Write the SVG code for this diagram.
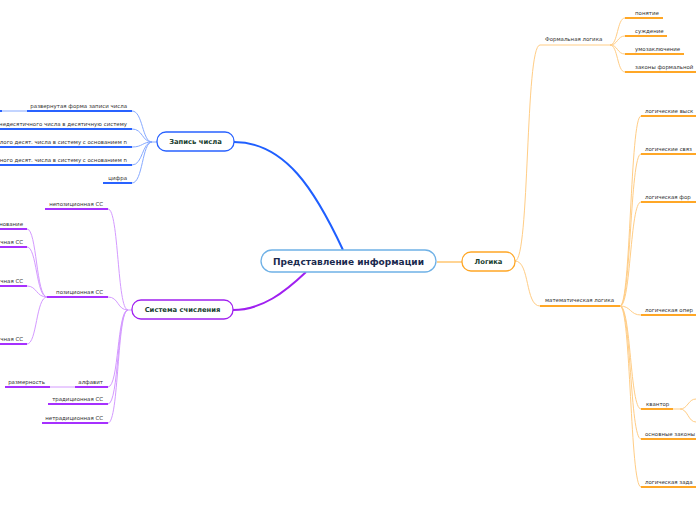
<svg xmlns="http://www.w3.org/2000/svg" width="696" height="520" viewBox="0 0 696 520">
<style>
text{font-family:"DejaVu Sans","Verdana",sans-serif}
.t{font-size:5.45px;fill:#333}
.e{text-anchor:end}
.b{font-weight:bold;font-size:6.8px;fill:#17402f;text-anchor:middle}
.c{font-weight:bold;font-size:9px;fill:#1b2a4e;text-anchor:middle}
.ub{stroke:#2962ff;stroke-width:2;fill:none}
.lb{stroke:#86a9ff;stroke-width:1;fill:none}
.up{stroke:#a630ff;stroke-width:2;fill:none}
.lp{stroke:#d49aff;stroke-width:1;fill:none}
.uo{stroke:#ffa726;stroke-width:2;fill:none}
.lo{stroke:#ffcd85;stroke-width:1;fill:none}
</style>
<rect width="696" height="520" fill="#fff"/>
<g id="connectors">
<path d="M343,250 C315,190 285,142 234,142" stroke="#1f5fff" stroke-width="2" fill="none"/>
<path d="M306,272 C285,292 262,310 233,310" stroke="#a020f0" stroke-width="2" fill="none"/>
<path d="M437,262 L462,262" stroke="#ffb74d" stroke-width="1.2" fill="none"/>
<path class="lo" d="M515,261 C530,261 525,45 540,45"/>
<path class="lo" d="M515,261 C530,261 525,306 540,306"/>
<path class="lo" d="M540,45 L610,45"/>
<path class="lo" d="M610,45 C618,45 617,18 625,18"/>
<path class="lo" d="M610,45 C618,45 617,36 625,36"/>
<path class="lo" d="M610,45 C618,45 617,54 625,54"/>
<path class="lo" d="M610,45 C618,45 617,72 625,72"/>
<path class="lo" d="M620,306 C631,306 630,116 641,116"/>
<path class="lo" d="M620,306 C631,306 630,154 641,154"/>
<path class="lo" d="M620,306 C631,306 630,202 641,202"/>
<path class="lo" d="M620,306 C631,306 630,315 641,315"/>
<path class="lo" d="M620,306 C631,306 630,409 641,409"/>
<path class="lo" d="M620,306 C631,306 630,439 641,439"/>
<path class="lo" d="M620,306 C631,306 630,487 641,487"/>
<path class="lo" d="M673,409 L680,409 C688,409 688,399 696,399"/>
<path class="lo" d="M680,409 C688,409 688,422 696,422"/>
<path class="lb" d="M132,111 C143,111 142,142 152,142 L157,142"/>
<path class="lb" d="M132,129 C143,129 142,142 152,142"/>
<path class="lb" d="M132,147 C143,147 142,142 152,142"/>
<path class="lb" d="M132,165 C143,165 142,142 152,142"/>
<path class="lb" d="M132,183 C143,183 142,142 152,142"/>
<path class="lb" d="M27,111 L2,111"/>
<path class="lp" d="M108,209 C119,209 117,310 128,310 L132,310"/>
<path class="lp" d="M108,297 C119,297 117,310 128,310"/>
<path class="lp" d="M108,387 C119,387 117,310 128,310"/>
<path class="lp" d="M108,404 C119,404 117,310 128,310"/>
<path class="lp" d="M108,423 C119,423 117,310 128,310"/>
<path class="lp" d="M27,229 C37,229 36,297 47,297"/>
<path class="lp" d="M27,247 C37,247 36,297 47,297"/>
<path class="lp" d="M27,286 C37,286 36,297 47,297"/>
<path class="lp" d="M27,344 C37,344 36,297 47,297"/>
<path class="lp" d="M75,387 L50,387"/>
</g>
<g id="root">
<rect x="261" y="250" width="175" height="22" rx="11" fill="#fff" stroke="#6fb1e6" stroke-width="1.3"/>
<text class="c" x="348.5" y="264.5">Представление информации</text>
</g>
<g id="logika">
<rect x="462" y="252" width="53" height="19" rx="9" fill="#fff" stroke="#ffa726" stroke-width="1.3"/>
<text class="b" x="488.5" y="264">Логика</text>
</g>
<g id="zapis">
<rect x="157" y="132" width="77" height="19" rx="9" fill="#fff" stroke="#2962ff" stroke-width="1.3"/>
<text class="b" x="195.5" y="144">Запись числа</text>
</g>
<g id="sistema">
<rect x="132" y="300" width="101" height="19" rx="9" fill="#fff" stroke="#a020f0" stroke-width="1.3"/>
<text class="b" x="182.5" y="312">Система счисления</text>
</g>
<g id="formal"><text class="t" x="545" y="41">Формальная логика</text></g>
<g id="ponyatie"><path class="uo" d="M625,18 L663,18"/><text class="t" x="635" y="14.5">понятие</text></g>
<g id="suzhdenie"><path class="uo" d="M625,36 L667,36"/><text class="t" x="635" y="32.5">суждение</text></g>
<g id="umozakl"><path class="uo" d="M625,54 L684,54"/><text class="t" x="635" y="50.5">умозаключение</text></g>
<g id="zakony-f"><path class="uo" d="M625,72 L696,72"/><text class="t" x="635" y="68.5">законы формальной</text></g>
<g id="matlog"><path class="uo" d="M540,306 L620,306"/><text class="t" x="545" y="302">математическая логика</text></g>
<g id="vysk"><path class="uo" d="M641,116 L696,116"/><text class="t" x="645" y="112.5">логические выск</text></g>
<g id="svyazk"><path class="uo" d="M641,154 L696,154"/><text class="t" x="645" y="150.5">логические связ</text></g>
<g id="forma"><path class="uo" d="M641,202 L696,202"/><text class="t" x="645" y="198.5">логическая фор</text></g>
<g id="opera"><path class="uo" d="M641,315 L696,315"/><text class="t" x="645" y="311.5">логическая опер</text></g>
<g id="kvantor"><path class="uo" d="M641,409 L673,409"/><text class="t" x="646" y="405.5">квантор</text></g>
<g id="osnzak"><path class="uo" d="M641,439 L696,439"/><text class="t" x="645" y="435.5">основные законы</text></g>
<g id="zadacha"><path class="uo" d="M641,487 L696,487"/><text class="t" x="645" y="483.5">логическая зада</text></g>
<g id="razv"><path class="ub" d="M27,111 L132,111"/><path class="ub" d="M0,111 L2,111"/><text class="t e" x="127" y="107.5">развернутая форма записи числа</text></g>
<g id="nedes"><path class="ub" d="M0,129 L132,129"/><text class="t e" x="127" y="125.5">недесятичного числа в десятичную систему</text></g>
<g id="celogo"><path class="ub" d="M0,147 L132,147"/><text class="t e" x="127" y="143.5">лого десят. числа в систему с основанием n</text></g>
<g id="drobn"><path class="ub" d="M0,165 L132,165"/><text class="t e" x="127" y="161.5">ного десят. числа в систему с основанием n</text></g>
<g id="cifra"><path class="ub" d="M103,183 L132,183"/><text class="t e" x="127" y="179.5">цифра</text></g>
<g id="nepoz"><path class="up" d="M45,209 L108,209"/><text class="t e" x="103" y="205.5">непозиционная СС</text></g>
<g id="poz"><path class="up" d="M47,297 L108,297"/><text class="t e" x="103" y="293.5">позиционная СС</text></g>
<g id="osnov"><path class="up" d="M0,229 L27,229"/><text class="t e" x="23" y="225.5">нование</text></g>
<g id="p1"><path class="up" d="M0,247 L27,247"/><text class="t e" x="23" y="243.5">чная СС</text></g>
<g id="p2"><path class="up" d="M0,286 L27,286"/><text class="t e" x="23" y="282.5">чная СС</text></g>
<g id="p3"><path class="up" d="M0,344 L27,344"/><text class="t e" x="23" y="340.5">чная СС</text></g>
<g id="alfavit"><path class="up" d="M75,387 L108,387"/><text class="t e" x="103" y="383.5">алфавит</text></g>
<g id="razmer"><path class="up" d="M5,387 L50,387"/><text class="t e" x="45" y="383.5">размерность</text></g>
<g id="trad"><path class="up" d="M48,404 L108,404"/><text class="t e" x="103" y="400.5">традиционная СС</text></g>
<g id="netrad"><path class="up" d="M42,423 L108,423"/><text class="t e" x="103" y="419.5">нетрадиционная СС</text></g>
</svg>
